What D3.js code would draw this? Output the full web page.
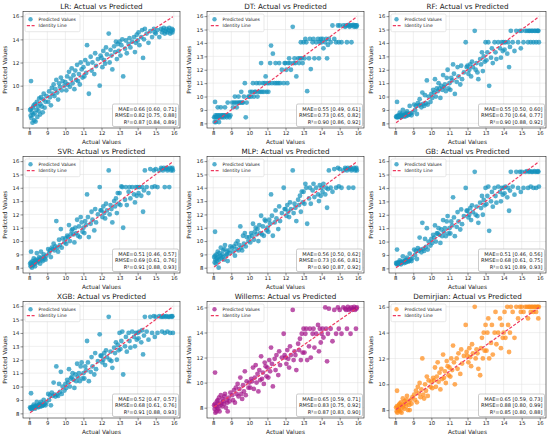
<!DOCTYPE html>
<html>
<head>
<meta charset="utf-8">
<script src="https://cdn.jsdelivr.net/npm/d3@7"></script>
<style>
body { margin: 0; background: #fff; }
text { font-family: "DejaVu Sans", sans-serif; }
</style>
</head>
<body>
<div id="chart"></div>
<script>
// actual values (same test set for every model)
const actual = [
  8.05,8.08,8.1,8.1,8.12,8.15,8.18,8.2,8.22,8.25,8.28,8.3,8.32,8.35,8.4,8.42,8.45,8.5,8.52,8.55,8.6,8.62,8.65,8.7,8.75,8.78,8.8,8.85,8.9,8.95,
  9.05,9.1,9.15,9.2,9.25,9.3,9.35,9.4,9.45,9.5,9.55,9.6,9.65,9.7,9.75,9.8,9.85,9.95,
  10.0,10.05,10.1,10.15,10.2,10.25,10.3,10.35,10.4,10.45,10.5,10.55,10.6,10.65,10.7,10.75,10.8,10.85,10.9,10.95,
  11.0,11.05,11.1,11.15,11.2,11.25,11.3,11.4,11.45,11.5,11.6,11.65,11.7,11.8,11.9,11.95,
  12.0,12.05,12.1,12.15,12.2,12.25,12.3,12.4,12.45,12.5,12.55,12.6,12.7,12.75,12.8,12.85,12.9,12.95,
  13.0,13.05,13.1,13.15,13.2,13.3,13.35,13.4,13.5,13.55,13.6,13.7,13.8,13.85,13.9,13.95,
  14.0,14.05,14.1,14.2,14.25,14.3,14.35,14.4,14.5,14.6,14.7,14.8,14.9,14.95,
  15.0,15.1,15.2,15.3,15.35,15.4,15.45,15.5,15.55,15.6,15.65,15.7,15.75,15.8,15.85,15.9,15.92,15.95
];

const lr = [
  7.9,7.4,10.4,8.0,7.2,7.7,6.8,8.1,7.5,8.3,7.0,7.6,8.4,6.9,7.9,8.6,7.3,8.2,7.8,8.9,7.5,8.4,9.0,8.2,7.7,8.8,9.3,8.1,8.6,9.1,
  8.6,9.5,9.0,8.3,9.8,9.3,10.1,9.1,9.7,10.5,9.4,8.8,10.2,9.9,10.7,9.6,10.4,10.0,
  10.3,9.6,10.8,10.1,11.2,9.9,10.6,11.5,10.2,10.9,9.7,11.3,10.5,11.8,10.4,11.0,10.1,12.0,11.4,10.7,
  11.6,10.8,12.2,11.1,13.5,11.9,9.3,12.5,11.3,12.0,11.0,12.8,11.7,12.3,10.0,12.6,
  12.4,11.6,13.0,12.2,11.9,13.3,12.7,14.5,12.0,13.1,12.6,11.4,13.4,12.9,13.8,12.3,13.6,13.0,
  13.8,12.6,13.5,14.0,10.8,13.2,13.9,12.8,13.6,14.1,13.3,13.8,14.2,12.9,13.7,14.4,
  13.9,14.6,13.5,14.2,14.8,12.4,14.0,14.9,14.5,13.7,14.7,14.2,14.9,14.6,
  14.5,14.8,14.2,14.9,14.6,14.8,15.0,14.5,14.7,14.9,14.6,14.8,15.0,14.5,14.7,14.9,14.6,14.8
];
const dt = [
  8.45,8.1,9.6,8.45,8.6,8.1,8.45,8.6,8.45,9.2,8.6,8.45,8.1,8.6,8.45,9.2,8.6,8.45,8.6,8.6,8.45,8.6,9.2,8.6,8.45,8.6,9.55,8.6,8.45,8.6,
  9.55,9.2,9.55,10.0,9.55,9.2,9.55,10.0,9.55,9.55,10.35,9.55,9.55,10.0,11.0,8.45,9.55,10.0,
  10.0,10.35,10.0,10.35,11.0,10.0,10.35,10.35,11.0,10.0,10.35,11.0,10.35,12.5,10.35,11.0,10.35,11.0,11.5,10.35,
  11.0,10.35,11.0,12.5,13.8,11.0,13.2,11.0,12.5,11.0,11.0,12.5,11.0,12.0,11.0,12.5,
  12.5,12.0,11.0,12.5,12.85,12.5,12.0,15.2,12.5,12.85,12.5,11.5,12.85,12.5,12.85,14.05,12.85,12.5,
  14.05,12.85,14.3,14.05,10.4,12.85,14.3,12.05,14.05,14.3,12.85,14.05,14.3,12.85,14.05,14.3,
  14.05,14.3,13.6,14.05,14.3,12.85,13.85,14.3,14.05,15.3,14.3,14.05,15.3,14.05,
  15.3,14.05,15.3,15.2,15.3,14.05,15.3,15.35,15.2,15.3,14.05,15.3,15.35,15.2,15.3,15.3,15.2,15.3
];
const rf = [
  8.5,8.45,9.6,8.5,8.55,8.45,8.6,8.5,8.55,8.8,8.5,8.6,8.45,8.7,8.55,9.0,8.6,8.5,8.7,8.65,8.55,8.75,8.9,8.6,8.7,8.65,9.3,8.75,8.6,8.8,
  9.4,9.0,9.3,8.7,9.5,9.35,9.8,9.4,9.2,10.3,9.45,9.3,10.1,9.5,11.2,9.4,10.0,9.6,
  10.2,9.9,10.5,10.3,11.3,10.0,10.6,10.4,11.0,10.6,9.9,10.8,10.5,11.6,10.7,10.9,10.4,11.4,12.0,10.6,
  11.0,10.5,11.4,11.2,12.4,11.7,10.2,11.1,12.2,11.5,10.9,12.3,11.3,11.8,14.05,12.2,
  12.3,11.7,12.0,12.4,11.5,12.6,12.2,14.9,12.0,12.5,11.8,11.3,12.8,12.4,13.3,11.9,13.0,12.6,
  14.05,12.7,13.3,14.05,10.8,12.9,13.6,12.5,14.05,13.3,12.8,14.05,13.6,12.9,14.05,13.4,
  14.05,13.5,14.05,13.2,14.05,12.2,13.7,14.9,14.05,13.4,14.9,14.05,14.9,13.6,
  14.9,14.05,14.9,14.9,14.05,14.9,14.9,14.05,14.9,14.9,14.05,14.9,14.9,14.05,14.9,14.9,14.9,14.05
];
const svr = [
  8.3,8.1,9.2,8.4,8.2,8.0,8.5,8.3,8.2,8.7,8.4,8.3,8.1,8.6,8.5,9.1,8.4,8.6,8.5,8.8,8.3,8.7,9.2,8.6,8.5,8.8,9.0,8.7,8.6,8.9,
  9.4,9.1,9.3,8.8,9.5,9.4,9.8,9.3,9.6,11.5,9.5,9.2,10.1,9.7,10.9,9.5,10.2,9.9,
  10.2,9.8,10.4,10.3,11.2,10.0,10.5,10.8,10.9,10.5,9.9,11.0,10.6,11.6,10.4,11.1,10.3,11.8,11.4,10.7,
  11.0,10.6,11.5,11.2,13.5,11.8,10.3,11.3,12.2,11.6,10.8,12.4,11.4,12.0,14.05,12.3,
  12.3,11.8,12.6,12.1,11.7,12.8,12.3,15.3,12.0,12.7,12.4,11.4,13.0,12.6,13.2,12.1,13.6,12.8,
  13.6,12.7,14.1,14.05,11.0,13.1,14.05,12.7,13.7,14.05,13.2,14.05,13.5,12.9,14.05,13.4,
  14.05,13.6,14.05,13.4,14.05,12.2,13.8,15.3,14.05,13.6,15.4,14.05,15.3,14.1,
  15.4,14.05,15.3,15.5,15.4,15.3,15.5,14.05,15.4,15.5,15.3,15.4,14.05,15.5,15.3,15.4,15.5,15.3
];
const mlp = [
  8.8,8.4,10.7,8.9,8.6,8.3,9.0,8.7,8.5,9.2,8.8,8.0,8.6,9.1,8.9,9.5,8.7,9.0,8.8,9.3,8.6,9.4,9.7,8.9,9.0,9.2,8.5,9.3,9.1,9.6,
  9.5,9.2,9.6,8.9,9.8,9.4,10.0,9.3,9.7,11.1,9.5,9.3,10.4,9.8,10.6,9.6,10.3,10.0,
  10.3,9.9,10.6,10.4,11.3,10.1,10.7,11.0,10.5,10.9,10.0,11.2,10.6,11.9,10.5,11.1,10.4,11.6,11.5,10.8,
  11.0,10.7,11.6,11.3,13.5,11.9,10.4,11.4,12.3,11.7,10.9,12.6,11.5,12.1,14.0,12.4,
  12.4,11.9,12.7,12.2,11.8,12.9,12.4,15.3,12.1,12.8,12.5,11.5,13.1,12.7,13.4,12.2,13.7,12.9,
  13.7,12.8,14.3,14.0,11.3,13.2,14.0,12.8,13.8,14.3,13.3,14.0,13.5,13.0,14.2,13.4,
  14.0,13.7,14.3,13.5,14.0,12.5,13.9,15.3,14.0,13.7,15.4,14.0,15.5,14.1,
  15.4,14.0,15.3,15.5,15.4,15.3,15.5,14.0,15.4,15.5,15.3,15.4,14.0,15.5,15.3,15.4,15.5,15.3
];
const gb = [
  8.4,8.3,9.4,8.4,8.35,8.3,8.45,8.4,8.35,8.6,8.4,8.45,8.3,8.5,8.45,8.9,8.5,8.4,8.55,8.6,8.45,8.65,8.8,8.5,8.6,8.55,9.1,8.7,8.55,8.75,
  9.4,9.0,9.3,8.7,9.5,9.3,10.3,9.4,9.2,11.4,9.45,9.3,10.2,9.6,11.0,9.4,10.0,9.7,
  10.2,9.9,10.5,10.3,11.2,10.0,10.6,10.6,11.0,10.5,9.9,10.9,10.4,11.6,10.7,11.0,10.4,11.5,11.9,10.6,
  11.0,10.6,11.5,11.2,13.3,11.8,10.4,11.1,12.2,11.5,10.9,12.4,11.3,11.9,14.0,12.3,
  12.3,11.8,12.0,12.5,11.6,12.7,12.2,15.2,12.0,12.6,11.9,11.4,12.9,12.5,13.4,12.0,13.1,12.7,
  14.0,12.8,13.4,14.1,10.8,13.0,13.7,12.6,14.0,13.4,12.9,14.1,13.7,13.0,14.0,13.5,
  14.0,13.6,14.1,13.3,14.0,12.3,13.8,15.2,14.1,13.5,15.2,14.0,15.2,13.7,
  15.2,14.0,15.2,15.25,14.0,15.2,15.25,14.1,15.2,15.2,14.0,15.25,15.2,14.0,15.2,15.25,15.2,14.1
];
const xgb = [
  8.45,8.35,9.5,8.4,8.4,8.3,8.5,8.45,8.4,8.65,8.45,8.5,8.35,8.55,8.5,8.85,8.55,8.45,8.6,8.65,8.5,8.7,8.85,8.55,8.6,8.6,9.0,8.7,8.6,8.8,
  9.45,9.0,9.35,8.6,9.55,9.3,10.3,9.4,9.25,11.5,9.4,9.3,10.2,9.6,11.1,9.45,10.0,9.7,
  10.2,9.9,10.5,10.3,11.3,10.0,10.6,10.7,11.0,10.5,9.9,10.9,10.4,11.7,10.7,11.0,10.4,11.5,11.8,10.6,
  11.0,10.6,11.5,11.2,13.4,11.8,10.4,11.1,12.2,11.5,10.9,12.5,11.3,11.9,13.9,12.3,
  12.3,11.8,12.0,12.5,11.6,12.7,12.2,15.2,12.0,12.6,11.9,11.4,12.9,12.5,13.3,12.0,13.1,12.7,
  14.0,12.8,13.4,14.1,10.9,13.0,13.7,12.6,14.0,13.4,12.9,14.1,13.7,13.0,14.0,13.5,
  14.0,13.6,14.1,13.3,14.2,12.4,13.8,15.2,14.1,13.5,15.2,14.0,15.25,13.7,
  15.2,14.0,15.25,15.2,14.1,15.2,15.25,14.0,15.2,15.25,14.1,15.2,15.2,14.0,15.25,15.2,15.25,14.0
];
const willems = [
  8.2,7.9,10.8,8.3,7.6,8.1,7.7,8.5,8.0,8.6,7.9,8.3,8.8,7.7,8.2,9.0,8.4,8.1,8.7,8.5,8.3,8.9,9.1,8.0,8.6,8.4,7.7,8.8,8.5,9.2,
  9.0,8.6,9.4,8.4,9.6,9.1,9.9,8.9,9.5,10.4,9.1,8.7,9.8,9.3,10.9,9.0,10.1,9.6,
  10.0,9.6,10.3,10.1,11.2,9.5,10.4,11.4,10.0,10.7,9.3,11.0,10.2,12.1,10.3,10.8,9.9,11.6,11.3,10.5,
  11.2,10.4,11.8,10.9,12.8,11.5,9.7,11.9,11.0,12.2,10.6,12.5,11.4,12.0,13.9,12.2,
  12.0,11.5,12.6,11.9,11.2,12.9,12.2,15.8,11.8,12.5,12.2,11.0,13.1,12.6,13.5,11.8,13.9,12.4,
  14.3,12.4,13.9,14.3,11.8,12.9,14.3,12.0,13.9,14.3,12.8,13.9,14.6,12.5,14.3,13.2,
  13.9,14.3,13.6,16.0,14.3,11.7,13.9,15.9,14.3,13.3,15.8,13.9,16.0,14.3,
  15.8,13.9,16.0,15.9,15.8,14.3,16.05,15.8,15.9,13.9,16.0,15.8,15.9,16.05,15.8,14.3,15.9,16.0
];
const demirjian = [
  8.2,7.9,9.5,8.3,7.8,8.1,8.0,8.4,8.0,8.5,7.9,8.3,8.6,7.8,8.2,8.9,8.4,8.1,8.7,8.5,8.3,8.8,9.1,8.0,8.6,8.4,8.0,8.8,8.5,9.0,
  9.2,8.8,9.5,8.6,9.8,9.3,10.1,9.0,9.6,12.0,9.2,8.9,10.0,9.5,10.6,9.1,10.3,9.8,
  10.2,9.7,10.5,10.3,11.3,9.8,10.6,11.7,10.2,10.9,9.6,11.2,10.4,12.3,10.5,11.0,10.1,11.8,11.4,10.7,
  11.3,10.6,12.0,11.1,13.0,11.7,10.0,12.0,11.2,12.4,10.8,12.7,11.6,12.2,14.6,12.5,
  12.2,11.7,12.8,12.1,11.4,13.1,12.4,16.0,12.0,12.7,12.4,11.2,10.7,12.8,13.6,12.0,14.0,12.6,
  14.6,12.6,14.0,15.1,12.0,13.2,14.6,12.3,14.0,15.6,13.1,14.0,15.1,12.8,14.6,13.6,
  14.0,15.6,13.6,16.0,14.6,12.5,14.0,16.0,15.6,13.6,16.0,15.1,16.0,15.6,
  16.0,15.6,16.0,16.0,15.1,16.0,16.0,15.6,16.0,16.0,15.6,16.0,16.0,15.6,16.0,16.0,15.1,16.0
];

const models = ["LR", "DT", "RF", "SVR", "MLP", "GB", "XGB", "Willems", "Demirjian"];
const predictions = [lr, dt, rf, svr, mlp, gb, xgb, willems, demirjian];
const maeText = ["0.66 [0.60, 0.71]", "0.55 [0.49, 0.61]", "0.55 [0.50, 0.60]", "0.51 [0.46, 0.57]", "0.56 [0.50, 0.62]",
                 "0.51 [0.46, 0.56]", "0.52 [0.47, 0.57]", "0.65 [0.59, 0.71]", "0.65 [0.59, 0.73]"];
const rmseText = ["0.82 [0.75, 0.88]", "0.73 [0.65, 0.82]", "0.70 [0.64, 0.77]", "0.69 [0.61, 0.76]", "0.73 [0.66, 0.81]",
                  "0.68 [0.61, 0.75]", "0.68 [0.61, 0.76]", "0.83 [0.75, 0.92]", "0.88 [0.80, 0.99]"];
const r2Text = ["0.87 [0.84, 0.89]", "0.90 [0.86, 0.92]", "0.90 [0.88, 0.92]", "0.91 [0.88, 0.93]", "0.90 [0.87, 0.92]",
                "0.91 [0.89, 0.93]", "0.91 [0.88, 0.93]", "0.87 [0.83, 0.90]", "0.85 [0.80, 0.88]"];
const xTickValues = [8, 9, 10, 11, 12, 13, 14, 15, 16];
const yTickStep = [2, 1, 1, 1, 1, 1, 1, 2, 2];

const pointColor = ["#1592bd", "#1592bd", "#1592bd", "#1592bd", "#1592bd", "#1592bd", "#1592bd", "#a3168a", "#ff8c1a"];
const lineColor = "#ee3a5f";

const colLeft = [23, 207, 389], rowTop = [11.5, 156.5, 301.5];
const pw = 157, ph = 116.5;

const svg = d3.select("#chart").append("svg")
    .attr("width", 550)
    .attr("height", 439);

models.forEach((name, i) => {
    const pred = predictions[i];
    const g = svg.append("g")
        .attr("transform", `translate(${colLeft[i % 3]},${rowTop[Math.floor(i / 3)]})`);

    const xExt = d3.extent(actual), xPad = (xExt[1] - xExt[0]) * 0.05;
    const x = d3.scaleLinear().domain([xExt[0] - xPad, xExt[1] + xPad]).range([0, pw]);
    const yExt = d3.extent(pred.concat(xExt)), yPad = (yExt[1] - yExt[0]) * 0.05;
    const y = d3.scaleLinear().domain([yExt[0] - yPad, yExt[1] + yPad]).range([ph, 0]);
    const yTickValues = d3.range(8, 16.01, yTickStep[i]);

    // grid
    g.append("g").selectAll("line").data(xTickValues).join("line")
        .attr("x1", d => x(d)).attr("x2", d => x(d)).attr("y1", 0).attr("y2", ph)
        .attr("stroke", "#dedede").attr("stroke-width", 0.5);
    g.append("g").selectAll("line").data(yTickValues).join("line")
        .attr("y1", d => y(d)).attr("y2", d => y(d)).attr("x1", 0).attr("x2", pw)
        .attr("stroke", "#dedede").attr("stroke-width", 0.5);

    g.append("clipPath").attr("id", "clip" + i)
        .append("rect").attr("width", pw).attr("height", ph);
    const plot = g.append("g").attr("clip-path", `url(#clip${i})`);

    plot.selectAll("circle")
        .data(actual.map((a, k) => [a, pred[k]]).filter(d => d[1] != null))
        .join("circle")
        .attr("cx", d => x(d[0]))
        .attr("cy", d => y(d[1]))
        .attr("r", 2.4)
        .attr("fill", pointColor[i])
        .attr("fill-opacity", 0.72);

    plot.append("line")
        .attr("x1", x(xExt[0])).attr("y1", y(xExt[0]))
        .attr("x2", x(xExt[1])).attr("y2", y(xExt[1]))
        .attr("stroke", lineColor).attr("stroke-width", 1.2)
        .attr("stroke-dasharray", "3.2,1.6");

    g.append("rect").attr("width", pw).attr("height", ph)
        .attr("fill", "none").attr("stroke", "#222").attr("stroke-width", 0.6);

    const styleAxis = a => {
        a.select(".domain").remove();
        a.attr("font-family", "DejaVu Sans").attr("font-size", 5.3);
        a.selectAll("line").attr("stroke", "#222").attr("stroke-width", 0.5);
        a.selectAll("text").attr("fill", "#222");
    };
    g.append("g").attr("transform", `translate(0,${ph})`)
        .call(d3.axisBottom(x).tickValues(xTickValues).tickSize(2.5).tickPadding(1.2).tickFormat(d3.format("d")))
        .call(styleAxis);
    g.append("g")
        .call(d3.axisLeft(y).tickValues(yTickValues).tickSize(2.5).tickPadding(1.2).tickFormat(d3.format("d")))
        .call(styleAxis);

    g.append("text")
        .attr("x", pw / 2).attr("y", -3)
        .attr("text-anchor", "middle")
        .attr("font-size", 7.2).attr("fill", "#222")
        .text(`${name}: Actual vs Predicted`);
    g.append("text")
        .attr("x", pw / 2).attr("y", ph + 15.5)
        .attr("text-anchor", "middle")
        .attr("font-size", 5.8).attr("fill", "#222")
        .text("Actual Values");
    g.append("text")
        .attr("transform", `translate(-16,${ph / 2}) rotate(-90)`)
        .attr("text-anchor", "middle")
        .attr("font-size", 5.8).attr("fill", "#222")
        .text("Predicted Values");

    // legend
    const lg = g.append("g").attr("transform", "translate(2,2.5)");
    lg.append("rect").attr("width", 55).attr("height", 17.7).attr("rx", 1.5)
        .attr("fill", "#fff").attr("fill-opacity", 0.85)
        .attr("stroke", "#d0d0d0").attr("stroke-width", 0.5);
    lg.append("circle").attr("cx", 5.5).attr("cy", 5.3).attr("r", 2.2)
        .attr("fill", pointColor[i]).attr("fill-opacity", 0.72);
    lg.append("text").attr("x", 13.6).attr("y", 6.9)
        .attr("font-size", 4.5).attr("fill", "#222").text("Predicted Values");
    lg.append("line").attr("x1", 1.8).attr("x2", 9.6).attr("y1", 11.7).attr("y2", 11.7)
        .attr("stroke", lineColor).attr("stroke-width", 1.2).attr("stroke-dasharray", "3.2,1.6");
    lg.append("text").attr("x", 13.6).attr("y", 13.3)
        .attr("font-size", 4.5).attr("fill", "#222").text("Identity Line");

    // metrics box
    const sb = g.append("g");
    sb.append("rect").attr("x", pw - 67.5).attr("y", ph - 24).attr("width", 66).attr("height", 22.5).attr("rx", 1.5)
        .attr("fill", "#fff").attr("fill-opacity", 0.9)
        .attr("stroke", "#999").attr("stroke-width", 0.5);
    const lines = [`MAE=${maeText[i]}`, `RMSE=${rmseText[i]}`, `R²=${r2Text[i]}`];
    sb.selectAll("text").data(lines).join("text")
        .attr("x", pw - 3.5)
        .attr("y", (d, k) => ph - 17.2 + k * 6.35)
        .attr("text-anchor", "end")
        .attr("font-size", 5.1).attr("fill", "#222")
        .text(d => d);
});
</script>
</body>
</html>
